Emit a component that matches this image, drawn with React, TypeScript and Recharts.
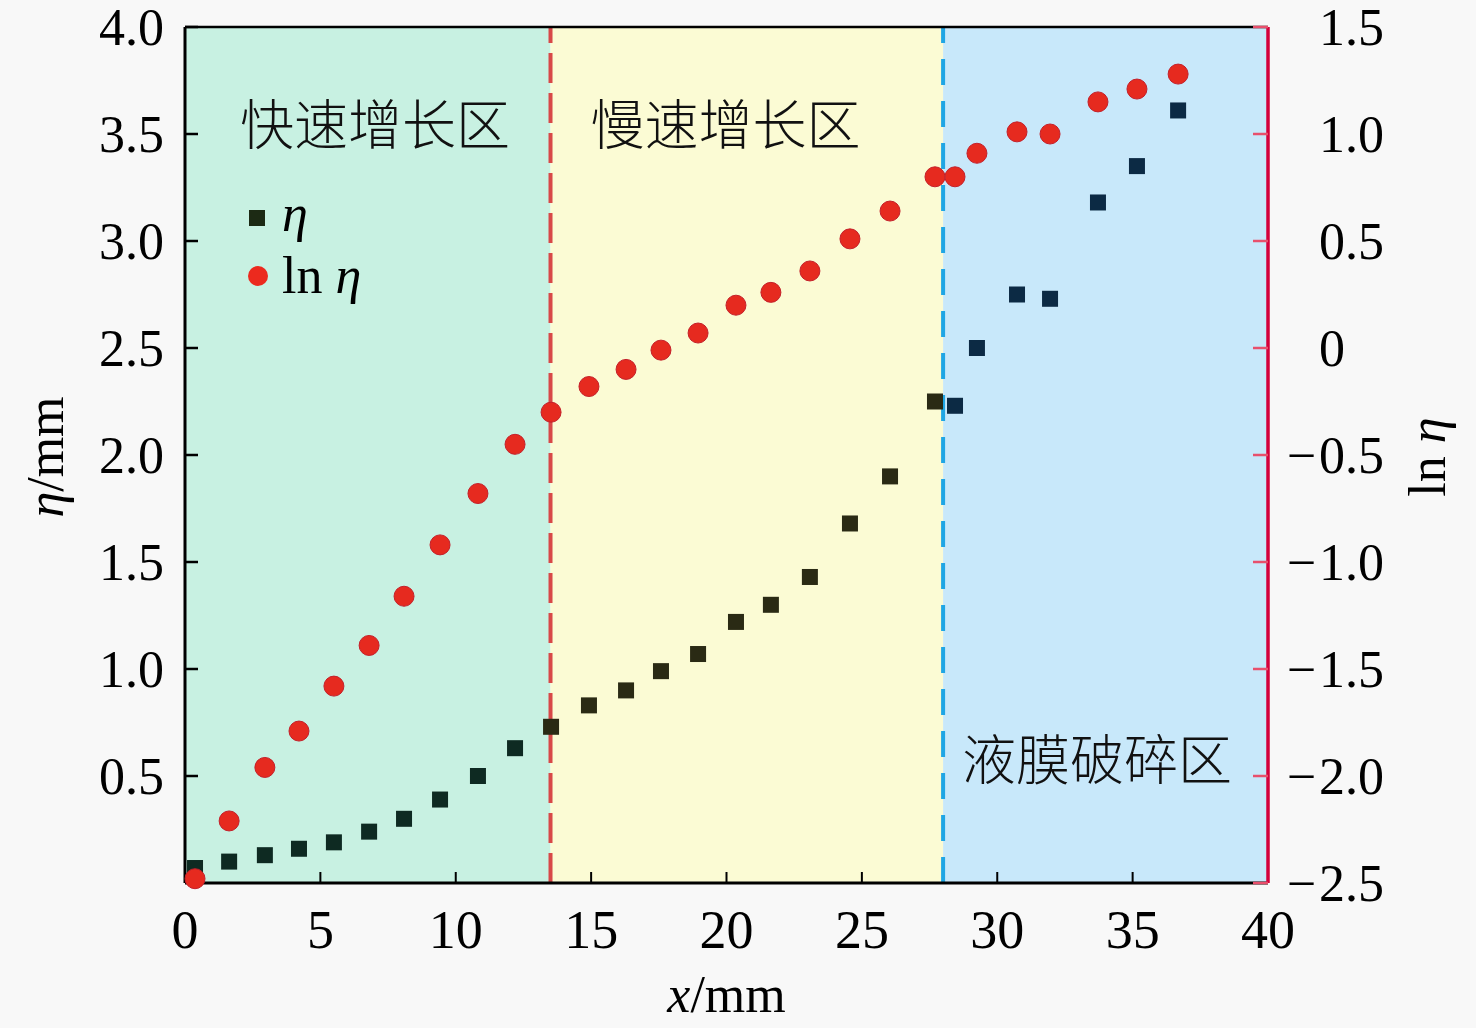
import React from 'react';
import {
  ComposedChart,
  Scatter,
  XAxis,
  YAxis,
  ReferenceArea,
  ReferenceLine,
  Legend,
  Cell,
} from 'recharts';

// x position along the film, mm
const xPos = [
  0.37, 1.63, 2.95, 4.21, 5.5, 6.8, 8.09, 9.42, 10.82, 12.19, 13.52, 14.92, 16.29, 17.58,
  18.95, 20.35, 21.64, 23.08, 24.56, 26.04, 27.7, 28.44, 29.25, 30.73, 31.95, 33.72, 35.16, 36.68,
];
// η, mm (left axis)
const etaVals = [
  0.07, 0.1, 0.13, 0.16, 0.19, 0.24, 0.3, 0.39, 0.5, 0.63, 0.73, 0.83, 0.9, 0.99,
  1.07, 1.22, 1.3, 1.43, 1.68, 1.9, 2.25, 2.23, 2.5, 2.75, 2.73, 3.18, 3.35, 3.61,
];
// ln η (right axis)
const lnEtaVals = [
  -2.48, -2.21, -1.96, -1.79, -1.58, -1.39, -1.16, -0.92, -0.68, -0.45, -0.3, -0.18, -0.1, -0.01,
  0.07, 0.2, 0.26, 0.36, 0.51, 0.64, 0.8, 0.8, 0.91, 1.01, 1.0, 1.15, 1.21, 1.28,
];

const zoneEdges = [0, 13.5, 28, 40];
const zoneNames = ['快速增长区', '慢速增长区', '液膜破碎区'];

const xTicks = [0, 5, 10, 15, 20, 25, 30, 35, 40];
const leftTicks = [0.5, 1.0, 1.5, 2.0, 2.5, 3.0, 3.5, 4.0];
const rightTicks = [-2.5, -2.0, -1.5, -1.0, -0.5, 0, 0.5, 1.0, 1.5];

const etaData = xPos.map((x, i) => ({ x, y: etaVals[i] }));
const lnData = xPos.map((x, i) => ({ x, y: lnEtaVals[i] }));

const SERIF = '"Liberation Serif", "Times New Roman", serif';
const CJK = '"Noto Sans CJK SC", sans-serif';
const zoneFills = ['#c8f1e2', '#fbfbd4', '#c8e8fa'];
const squareFills = ['#0e2a22', '#2a2a14', '#0c2a44'];
const RIGHT_RED = '#d4003a';

const zoneOf = (x: number) => (x < zoneEdges[1] ? 0 : x < zoneEdges[2] ? 1 : 2);

const LeftTick = ({ x, y, payload }: any) => (
  <g>
    <line x1={x} y1={y} x2={x + 13} y2={y} stroke="#000" strokeWidth={2.5} />
    <text x={x - 21} y={y} dy="0.34em" textAnchor="end" fontSize={52} fontFamily={SERIF} fill="#000">
      {payload.value.toFixed(1)}
    </text>
  </g>
);

const RightTick = ({ x, y, payload }: any) => {
  const v = payload.value as number;
  const txt = v === 0 ? '0' : Math.abs(v).toFixed(1);
  return (
    <g>
      <line x1={x} y1={y} x2={x - 15} y2={y} stroke="#e8506c" strokeWidth={2.5} />
      {v < 0 && (
        <text x={x + 48} y={y} dy="0.34em" textAnchor="end" fontSize={52} fontFamily={SERIF} fill="#000">
          −
        </text>
      )}
      <text x={x + 51} y={y} dy="0.34em" textAnchor="start" fontSize={52} fontFamily={SERIF} fill="#000">
        {txt}
      </text>
    </g>
  );
};

const BottomTick = ({ x, y, payload }: any) => (
  <g>
    {payload.value > 0 && payload.value < 40 && (
      <line x1={x} y1={y} x2={x} y2={y - 11} stroke="#000" strokeWidth={2} />
    )}
    <text x={x} y={y + 65} textAnchor="middle" fontSize={54} fontFamily={SERIF} fill="#000">
      {payload.value}
    </text>
  </g>
);

const zoneLabel = (text: string, dx: number, dy: number) => (props: any) => {
  const vb = props.viewBox;
  return (
    <text x={vb.x + dx} y={vb.y + dy} fontSize={54} fontFamily={CJK} fontWeight={300} fill="#111">
      {text}
    </text>
  );
};

const LegendBox = () => (
  <svg width={160} height={150} style={{ overflow: 'visible' }}>
    <rect x={9} y={40} width={16} height={16} fill="#1c2a14" />
    <text x={42} y={61} fontSize={52} fontFamily={SERIF} fontStyle="italic" fill="#000">
      η
    </text>
    <circle cx={18} cy={106} r={10} fill="#ec2a1e" />
    <text x={42} y={123} fontSize={52} fontFamily={SERIF} fill="#000">
      ln <tspan fontStyle="italic">η</tspan>
    </text>
  </svg>
);

export default function App() {
  return (
    <div style={{ position: 'absolute', left: 0, top: 0, width: 1476, height: 1028, background: '#f8f8f8' }}>
      <ComposedChart width={1476} height={1028} margin={{ top: 27, right: 0, bottom: 0, left: 0 }}>
        {zoneNames.map((name, i) => (
          <ReferenceArea
            key={name}
            xAxisId="x"
            yAxisId="left"
            x1={zoneEdges[i]}
            x2={zoneEdges[i + 1]}
            fill={zoneFills[i]}
            fillOpacity={1}
            stroke="none"
            label={zoneLabel(name, [55, 40, 19][i], [118, 118, 753][i])}
          />
        ))}
        <ReferenceLine xAxisId="x" yAxisId="left" x={zoneEdges[1]} stroke="#d84848" strokeWidth={4} strokeDasharray="30 10" />
        <ReferenceLine xAxisId="x" yAxisId="left" x={zoneEdges[2]} stroke="#1fa6e4" strokeWidth={4} strokeDasharray="26 16" />
        <ReferenceLine xAxisId="x" yAxisId="left" y={4} stroke="#000" strokeWidth={2.5} ifOverflow="visible" />

        <XAxis
          xAxisId="x"
          type="number"
          dataKey="x"
          domain={[0, 40]}
          ticks={xTicks}
          height={145}
          axisLine={{ stroke: '#000', strokeWidth: 3 }}
          tickLine={false}
          tickSize={0}
          tickMargin={0}
          tick={<BottomTick />}
          interval={0}
          label={(props: any) => {
            const vb = props.viewBox;
            return (
              <text x={vb.x + vb.width / 2} y={vb.y + 129} textAnchor="middle" fontSize={52} fontFamily={SERIF} fill="#000">
                <tspan fontStyle="italic">x</tspan>/mm
              </text>
            );
          }}
        />
        <YAxis
          yAxisId="left"
          orientation="left"
          type="number"
          domain={[0, 4]}
          ticks={leftTicks}
          width={185}
          axisLine={{ stroke: '#000', strokeWidth: 3 }}
          tickLine={false}
          tickSize={0}
          tickMargin={0}
          tick={<LeftTick />}
          interval={0}
          label={(props: any) => {
            const vb = props.viewBox;
            const cx = vb.x + 63;
            const cy = vb.y + vb.height / 2 + 2;
            return (
              <text x={cx} y={cy} transform={`rotate(-90 ${cx} ${cy})`} textAnchor="middle" fontSize={52} fontFamily={SERIF} fill="#000">
                <tspan fontStyle="italic">η</tspan>/mm
              </text>
            );
          }}
        />
        <YAxis
          yAxisId="right"
          orientation="right"
          type="number"
          domain={[-2.5, 1.5]}
          ticks={rightTicks}
          width={208}
          axisLine={{ stroke: RIGHT_RED, strokeWidth: 3.5 }}
          tickLine={false}
          tickSize={0}
          tickMargin={0}
          tick={<RightTick />}
          interval={0}
          label={(props: any) => {
            const vb = props.viewBox;
            const cx = vb.x + 177;
            const cy = vb.y + vb.height / 2 + 2;
            return (
              <text x={cx} y={cy} transform={`rotate(-90 ${cx} ${cy})`} textAnchor="middle" fontSize={52} fontFamily={SERIF} fill="#000">
                ln <tspan fontStyle="italic">η</tspan>
              </text>
            );
          }}
        />

        <Scatter
          name="η"
          xAxisId="x"
          yAxisId="left"
          data={etaData}
          dataKey="y"
          isAnimationActive={false}
          shape={(p: any) => <rect x={p.cx - 8} y={p.cy - 8} width={16} height={16} fill={p.fill} />}
        >
          {etaData.map((d, i) => (
            <Cell key={i} fill={squareFills[zoneOf(d.x)]} />
          ))}
        </Scatter>
        <Scatter
          name="ln η"
          xAxisId="x"
          yAxisId="right"
          data={lnData}
          dataKey="y"
          isAnimationActive={false}
          shape={(p: any) => <circle cx={p.cx} cy={p.cy} r={10} fill="#e62a1f" stroke="#c4202a" strokeWidth={1} />}
        />
        <Legend
          layout="horizontal"
          verticalAlign="middle"
          align="center"
          content={<LegendBox />}
          wrapperStyle={{ left: 240, top: 170, width: 160, height: 150 }}
        />
      </ComposedChart>
    </div>
  );
}
